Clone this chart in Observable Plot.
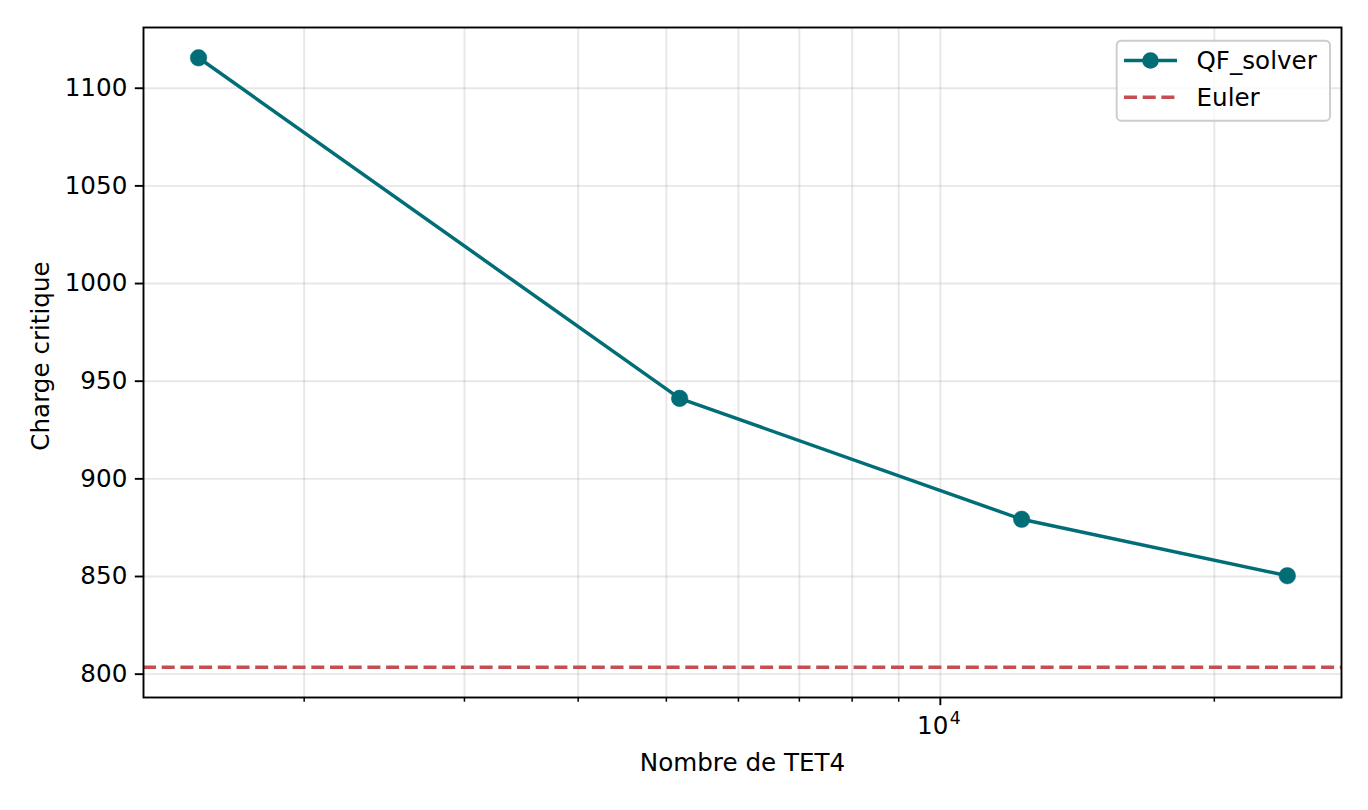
<!DOCTYPE html>
<html>
<head>
<meta charset="utf-8">
<script src="https://cdn.jsdelivr.net/npm/d3@7"></script>
<script src="https://cdn.jsdelivr.net/npm/@observablehq/plot@0.6"></script>
<style>
  html, body { margin: 0; padding: 0; background: white; }
  #chart { width: 1368px; height: 810px; }
</style>
</head>
<body>
<div id="chart"></div>
<script>
// ---- data ----
const nTet = [1531, 5171, 12284, 24056];
const charge = [1115.6, 941.2, 879.3, 850.4];
const eulerLoad = [803.6];
const yTicks = [800, 850, 900, 950, 1000, 1050, 1100];
const xMajorTicks = [10000];
const xMinorTicks = [2000, 3000, 4000, 5000, 6000, 7000, 8000, 9000, 20000];
const xMajorBase = ["10"];
const xMajorExp = ["4"];
const seriesNames = ["QF_solver", "Euler"];
const xLabel = ["Nombre de TET4"];
const yLabel = ["Charge critique"];

const teal = "#006d77";
const red = "#c44e52";
const FS = 24.6;

const data = nTet.map((n, i) => ({n, c: charge[i]}));

const chart = Plot.plot({
  width: 1368,
  height: 810,
  marginLeft: 143,
  marginRight: 27,
  marginTop: 27,
  marginBottom: 113,
  x: {type: "log", domain: [1332, 27590]},
  y: {domain: [788.05, 1131.1]},
  style: {fontFamily: "DejaVu Sans", fontSize: FS + "px", background: "white", color: "black", overflow: "visible"},
  marks: [
    Plot.gridX([...xMinorTicks, ...xMajorTicks], {stroke: "#b0b0b0", strokeOpacity: 0.3, strokeWidth: 1.9}),
    Plot.gridY(yTicks, {stroke: "#b0b0b0", strokeOpacity: 0.3, strokeWidth: 1.9}),
    Plot.ruleY(eulerLoad, {stroke: red, strokeWidth: 3.5, strokeDasharray: "13,5.7"}),
    Plot.line(data, {x: "n", y: "c", stroke: teal, strokeWidth: 3.5}),
    Plot.dot(data, {x: "n", y: "c", r: 8.3, fill: teal, stroke: teal, strokeWidth: 0.5}),
    Plot.frame({stroke: "black", strokeWidth: 1.9}),
    Plot.axisY(yTicks, {tickSize: 8.2, tickPadding: 8, label: null, strokeWidth: 1.9, fontSize: FS, tickFormat: d => String(d)}),
    Plot.axisX(xMajorTicks, {tickSize: 8.2, tickFormat: () => "", label: null, strokeWidth: 1.9}),
    Plot.axisX(xMinorTicks, {tickSize: 4.7, tickFormat: () => "", label: null, strokeWidth: 1.5}),
    Plot.text(xMajorTicks, {x: d => d, frameAnchor: "bottom", text: (d, i) => xMajorBase[i], textAnchor: "end", dx: 8, dy: 29, lineAnchor: "middle", fontSize: FS}),
    Plot.text(xMajorTicks, {x: d => d, frameAnchor: "bottom", text: (d, i) => xMajorExp[i], textAnchor: "start", dx: 9.5, dy: 20.5, lineAnchor: "middle", fontSize: FS * 0.7}),
    Plot.text(xLabel, {frameAnchor: "bottom", text: d => d, dy: 65.5, lineAnchor: "middle", fontSize: FS})
  ]
});

document.getElementById("chart").appendChild(chart);

const svg = d3.select(chart);

// ---- y axis label ----
svg.append("text")
  .attr("transform", "translate(48.5,356) rotate(-90)")
  .attr("text-anchor", "middle")
  .attr("font-family", "DejaVu Sans")
  .attr("font-size", FS)
  .attr("fill", "black")
  .text(yLabel[0]);

// ---- legend (matplotlib-style box, upper right) ----
const lg = svg.append("g").attr("font-family", "DejaVu Sans").attr("font-size", FS).attr("text-anchor", "start");
lg.append("rect")
  .attr("x", 1116.7).attr("y", 40.7).attr("width", 213.3).attr("height", 80)
  .attr("rx", 4.5).attr("ry", 4.5)
  .attr("fill", "white").attr("fill-opacity", 0.8)
  .attr("stroke", "#cccccc").attr("stroke-width", 1.9);
// QF_solver entry
lg.append("line").attr("x1", 1124).attr("x2", 1177).attr("y1", 60.5).attr("y2", 60.5)
  .attr("stroke", teal).attr("stroke-width", 3.5);
lg.append("circle").attr("cx", 1150.5).attr("cy", 60.5).attr("r", 8.3).attr("fill", teal);
lg.append("text").attr("x", 1196.5).attr("y", 60.5).attr("dy", "0.35em").attr("fill", "black").text(seriesNames[0]);
// Euler entry
lg.append("line").attr("x1", 1124).attr("x2", 1177).attr("y1", 97.3).attr("y2", 97.3)
  .attr("stroke", red).attr("stroke-width", 3.5).attr("stroke-dasharray", "13,5.7");
lg.append("text").attr("x", 1196.5).attr("y", 97.3).attr("dy", "0.35em").attr("fill", "black").text(seriesNames[1]);
</script>
</body>
</html>
